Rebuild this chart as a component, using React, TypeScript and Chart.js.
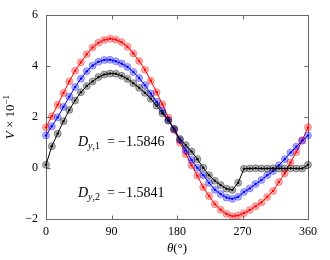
import React, { useEffect, useRef } from "react";
import { Chart, registerables } from "chart.js";

Chart.register(...registerables);

const theta = [0, 8, 16, 24, 32, 40, 48, 56, 64, 72, 80, 88, 96, 104, 112, 120, 128, 136, 144, 152, 160, 168, 176, 184, 192, 200, 208, 216, 224, 232, 240, 248, 256, 264, 272, 280, 288, 296, 304, 312, 320, 328, 336, 344, 352, 360];

const redSeries = [1.60, 2.03, 2.48, 2.95, 3.40, 3.82, 4.15, 4.47, 4.73, 4.92, 5.03, 5.08, 5.04, 4.94, 4.76, 4.50, 4.20, 3.86, 3.43, 2.98, 2.50, 1.98, 1.50, 1.00, 0.55, 0.11, -0.30, -0.75, -1.10, -1.42, -1.64, -1.80, -1.89, -1.86, -1.77, -1.65, -1.50, -1.35, -1.14, -0.90, -0.55, -0.21, 0.22, 0.63, 1.09, 1.60];

const blueSeries = [1.28, 1.64, 1.99, 2.40, 2.80, 3.18, 3.51, 3.80, 4.02, 4.17, 4.24, 4.25, 4.19, 4.10, 3.97, 3.77, 3.53, 3.25, 2.93, 2.60, 2.24, 1.88, 1.52, 1.10, 0.70, 0.32, 0.01, -0.28, -0.58, -0.85, -1.02, -1.16, -1.21, -1.13, -0.94, -0.80, -0.63, -0.47, -0.28, -0.12, 0.11, 0.35, 0.61, 0.84, 1.07, 1.28];

const blackSeries = [0.13, 0.86, 1.35, 1.84, 2.28, 2.65, 2.98, 3.22, 3.40, 3.57, 3.67, 3.71, 3.70, 3.62, 3.50, 3.33, 3.15, 2.95, 2.72, 2.45, 2.15, 1.86, 1.54, 1.14, 0.90, 0.65, 0.35, 0.01, -0.28, -0.50, -0.67, -0.81, -0.86, -0.58, -0.03, -0.02, -0.01, -0.02, -0.02, -0.01, -0.02, -0.02, -0.01, -0.02, -0.02, 0.13];

const xTicks = [0, 90, 180, 270, 360];
const yTicks = [-2, 0, 2, 4, 6];

const annotations = [
  { sub: "1", value: "\u22121.5846" },
  { sub: "2", value: "\u22121.5841" },
];

const FONT = "'Liberation Serif', 'DejaVu Serif', serif";

const toPoints = (vals: number[]) => theta.map((t, i) => ({ x: t, y: vals[i] }));

const fmt = (v: number) => String(v).replace("-", "\u2212");

const framePlugin = {
  id: "frame",
  beforeDatasetsDraw(chart: any) {
    const { ctx, chartArea } = chart;
    const { left, right, top, bottom } = chartArea;
    const xs = chart.scales.x;
    const ys = chart.scales.y;
    ctx.save();
    ctx.strokeStyle = "#666";
    ctx.lineWidth = 1;
    const L = Math.round(left) + 0.5;
    const R = Math.round(right) + 0.5;
    const T = Math.round(top) + 0.5;
    const B = Math.round(bottom) + 0.5;
    ctx.beginPath();
    ctx.rect(L, T, R - L, B - T);
    ctx.stroke();
    ctx.beginPath();
    xTicks.forEach((v) => {
      const p = Math.round(xs.getPixelForValue(v)) + 0.5;
      ctx.moveTo(p, B);
      ctx.lineTo(p, B - 4);
      ctx.moveTo(p, T);
      ctx.lineTo(p, T + 4);
    });
    yTicks.forEach((v) => {
      const p = Math.round(ys.getPixelForValue(v)) + 0.5;
      ctx.moveTo(L, p);
      ctx.lineTo(L + 4, p);
      ctx.moveTo(R, p);
      ctx.lineTo(R - 4, p);
    });
    ctx.stroke();
    ctx.restore();
  },
  afterDraw(chart: any) {
    const { ctx, chartArea } = chart;
    ctx.save();
    ctx.fillStyle = "#000";
    ctx.textBaseline = "alphabetic";

    // x title
    const xc = (chartArea.left + chartArea.right) / 2;
    ctx.font = `italic 13px ${FONT}`;
    const wTh = ctx.measureText("\u03b8").width;
    ctx.font = `13px ${FONT}`;
    const wPar = ctx.measureText("(\u00b0)").width;
    let sx = xc - (wTh + wPar) / 2;
    ctx.font = `italic 13px ${FONT}`;
    ctx.fillText("\u03b8", sx, 252);
    ctx.font = `13px ${FONT}`;
    ctx.fillText("(\u00b0)", sx + wTh, 252);

    // y title
    const yc = (chartArea.top + chartArea.bottom) / 2;
    ctx.translate(14, yc);
    ctx.rotate(-Math.PI / 2);
    ctx.font = `italic 13px ${FONT}`;
    const wV = ctx.measureText("V").width;
    ctx.font = `13px ${FONT}`;
    const wMid = ctx.measureText(" \u00d7 10").width;
    ctx.font = `9px ${FONT}`;
    const wSup = ctx.measureText("\u22121").width;
    let tx = -(wV + wMid + wSup) / 2;
    ctx.font = `italic 13px ${FONT}`;
    ctx.fillText("V", tx, 0);
    tx += wV;
    ctx.font = `13px ${FONT}`;
    ctx.fillText(" \u00d7 10", tx, 0);
    tx += wMid;
    ctx.font = `9px ${FONT}`;
    ctx.fillText("\u22121", tx, -5);
    ctx.restore();

    // annotations
    ctx.save();
    ctx.fillStyle = "#000";
    const baselines = [146, 197];
    annotations.forEach((a, i) => {
      const by = baselines[i];
      let ax = 78;
      ctx.font = `italic 14px ${FONT}`;
      ctx.fillText("D", ax, by);
      ax += ctx.measureText("D").width;
      ctx.font = `italic 10px ${FONT}`;
      ctx.fillText("y", ax, by + 3);
      ax += ctx.measureText("y").width;
      ctx.font = `10px ${FONT}`;
      ctx.fillText("," + a.sub, ax, by + 3);
      ctx.font = `14px ${FONT}`;
      ctx.fillText("=", 107, by);
      ctx.fillText(a.value, 118, by);
    });
    ctx.restore();
  },
};

function makeDataset(vals: number[], rgb: string) {
  return {
    data: toPoints(vals),
    borderColor: `rgb(${rgb})`,
    borderWidth: 1,
    pointRadius: 3.5,
    pointBorderWidth: 1,
    pointBackgroundColor: `rgba(${rgb},0.3)`,
    pointBorderColor: `rgba(${rgb},0.35)`,
    tension: 0,
    clip: false as any,
  };
}

function makeDots(vals: number[], rgb: string) {
  return {
    data: toPoints(vals),
    showLine: false,
    pointRadius: 1.3,
    pointBorderWidth: 0,
    pointBackgroundColor: `rgba(${rgb},0.9)`,
    borderColor: `rgb(${rgb})`,
    clip: false as any,
  };
}

export default function App() {
  const ref = useRef<HTMLCanvasElement | null>(null);
  useEffect(() => {
    if (!ref.current) return;
    const chart = new Chart(ref.current, {
      type: "line",
      data: {
        datasets: [
          makeDots(blackSeries, "0,0,0"),
          makeDataset(blackSeries, "0,0,0"),
          makeDots(blueSeries, "0,0,255"),
          makeDataset(blueSeries, "0,0,255"),
          makeDots(redSeries, "255,0,0"),
          makeDataset(redSeries, "255,0,0"),
        ] as any,
      },
      options: {
        animation: false,
        responsive: false,
        maintainAspectRatio: false,
        layout: { padding: { top: 12, right: 22, left: 0, bottom: 0 } },
        plugins: { legend: { display: false }, tooltip: { enabled: false } },
        scales: {
          x: {
            type: "linear",
            min: 0,
            max: 360,
            afterFit: (s: any) => {
              s.height = 41;
            },
            afterBuildTicks: (s: any) => {
              s.ticks = xTicks.map((v) => ({ value: v }));
            },
            grid: { display: false, drawTicks: false },
            border: { display: false },
            ticks: {
              color: "#000",
              padding: 6,
              maxRotation: 0,
              font: { family: FONT, size: 12 },
              callback: (v: any) => fmt(v),
            },
          },
          y: {
            type: "linear",
            min: -2,
            max: 6,
            afterFit: (s: any) => {
              s.width = 46;
            },
            afterBuildTicks: (s: any) => {
              s.ticks = yTicks.map((v) => ({ value: v }));
            },
            grid: { display: false, drawTicks: false },
            border: { display: false },
            ticks: {
              color: "#000",
              padding: 8,
              font: { family: FONT, size: 12 },
              callback: (v: any) => fmt(v),
            },
          },
        },
      },
      plugins: [framePlugin],
    });
    return () => chart.destroy();
  }, []);
  return (
    <div style={{ position: "fixed", left: 0, top: 0, width: 330, height: 260, background: "#fff" }}>
      <canvas ref={ref} width={330} height={260} style={{ width: 330, height: 260 }} />
    </div>
  );
}
